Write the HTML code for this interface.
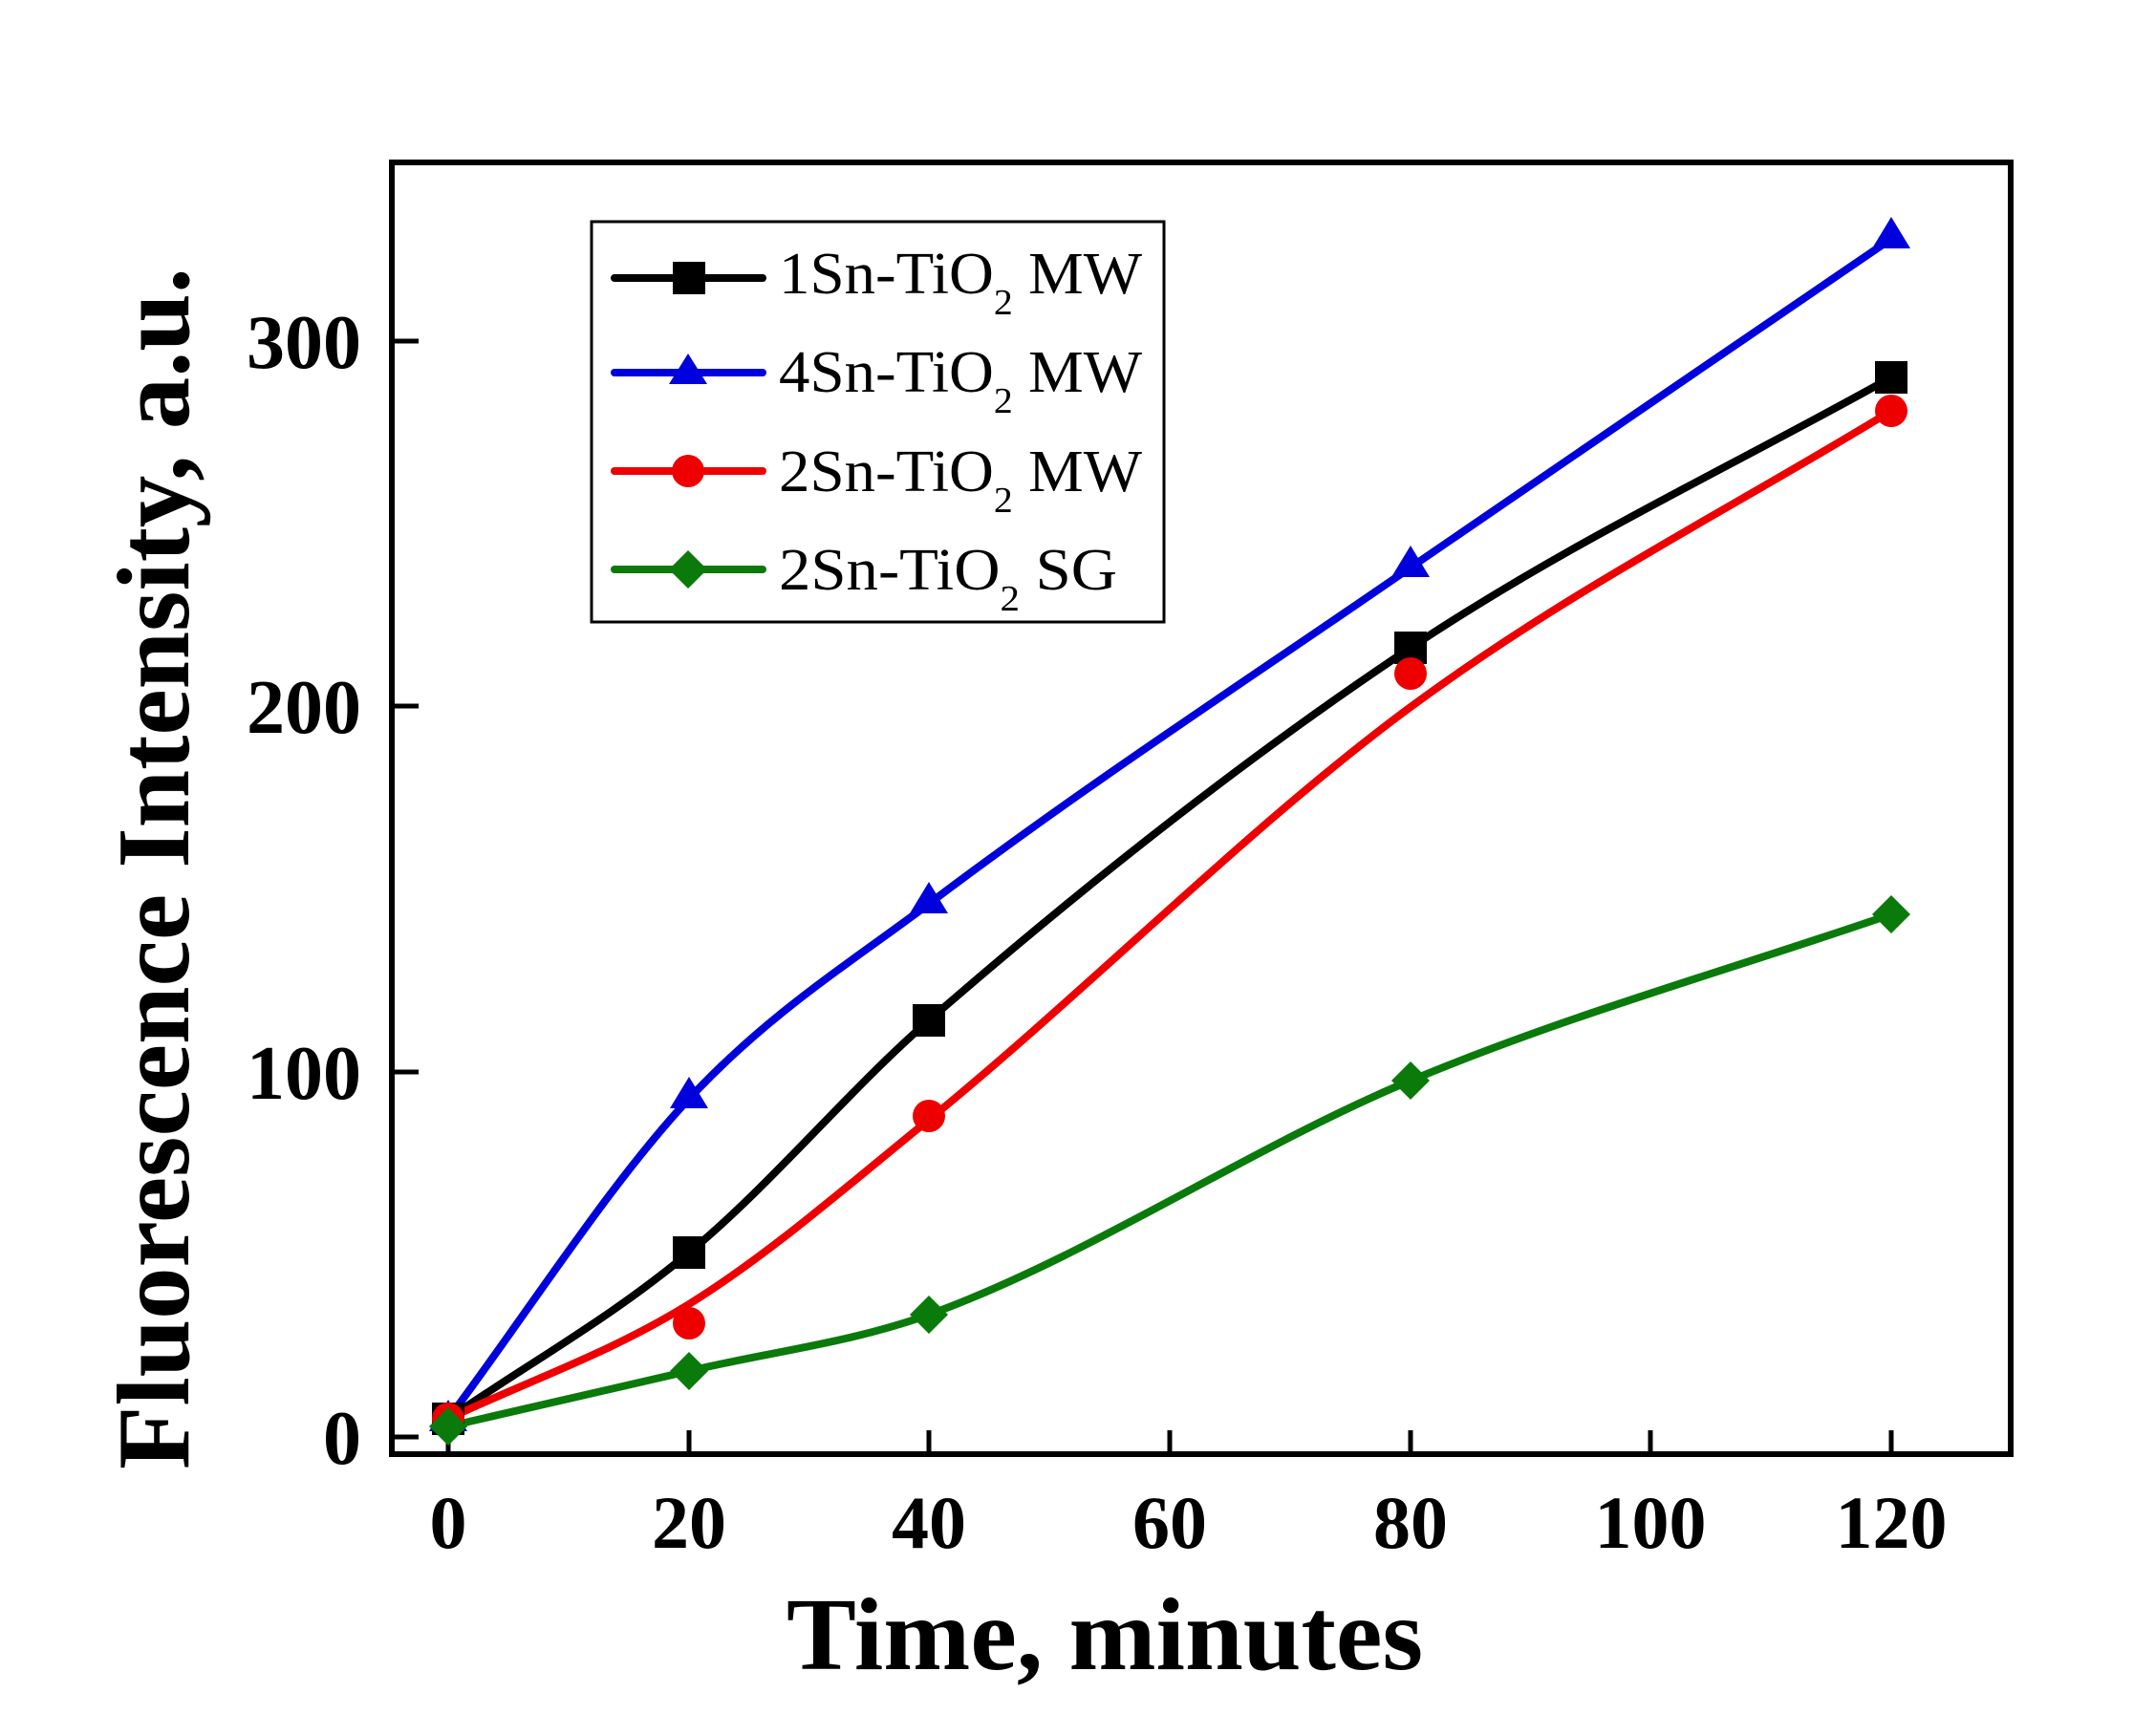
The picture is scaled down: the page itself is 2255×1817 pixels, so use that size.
<!DOCTYPE html>
<html><head><meta charset="utf-8"><style>body{margin:0;background:#fff}svg{display:block}</style></head><body>
<svg width="2255" height="1817" viewBox="0 0 2255 1817" xmlns="http://www.w3.org/2000/svg" font-family="'Liberation Serif', serif">
<rect width="2255" height="1817" fill="#fff"/>
<rect x="410" y="170" width="1694" height="1352" fill="none" stroke="#000" stroke-width="6"/>
<g stroke="#000" stroke-width="5">
<line x1="469" y1="1522" x2="469" y2="1497"/><line x1="721" y1="1522" x2="721" y2="1497"/><line x1="972" y1="1522" x2="972" y2="1497"/><line x1="1224" y1="1522" x2="1224" y2="1497"/><line x1="1476" y1="1522" x2="1476" y2="1497"/><line x1="1727" y1="1522" x2="1727" y2="1497"/><line x1="1979" y1="1522" x2="1979" y2="1497"/>
<line x1="410" y1="1504" x2="438" y2="1504"/><line x1="410" y1="1122" x2="438" y2="1122"/><line x1="410" y1="739" x2="438" y2="739"/><line x1="410" y1="357" x2="438" y2="357"/>
</g>
<g font-weight="bold" font-size="78" text-anchor="middle">
<text x="469" y="1620">0</text><text x="721" y="1620">20</text><text x="972" y="1620">40</text><text x="1224" y="1620">60</text><text x="1476" y="1620">80</text><text x="1727" y="1620">100</text><text x="1979" y="1620">120</text>
</g>
<g font-weight="bold" font-size="80" text-anchor="end">
<text x="378" y="1532">0</text><text x="378" y="1150">100</text><text x="378" y="767">200</text><text x="378" y="385">300</text>
</g>
<text x="1156" y="1747" font-weight="bold" font-size="108" text-anchor="middle" textLength="666" lengthAdjust="spacingAndGlyphs">Time, minutes</text>
<text transform="translate(197,909) rotate(-90)" font-weight="bold" font-size="108" text-anchor="middle" textLength="1258" lengthAdjust="spacingAndGlyphs">Fluorescence Intensity, a.u.</text>
<g fill="none" stroke-width="8" stroke-linecap="round">
<path stroke="#000" d="M469,1485 C553,1427 637,1381 721,1311 C805,1242 888,1141 972,1068 C1140,922 1308,790 1476,678 C1644,566 1811,489 1979,395"/>
<path stroke="#0000dd" d="M469,1485 C553,1373 637,1240 721,1150 C805,1060 888,1009 972,946 C1140,819 1308,710 1476,594 C1644,478 1811,365 1979,250"/>
<path stroke="#ee0000" d="M469,1485 C553,1445 637,1417 721,1365 C805,1313 888,1240 972,1172 C1140,1035 1308,864 1476,740 C1644,616 1811,533 1979,430"/>
<path stroke="#0a7a0a" d="M469,1493 C553,1474 637,1455 721,1435 C805,1415 888,1406 972,1376 C1140,1315 1308,1201 1476,1131 C1644,1061 1811,1015 1979,957"/>
</g>
<g fill="#000"><rect x="452" y="1468" width="34" height="34"/><rect x="704" y="1294" width="34" height="34"/><rect x="955" y="1051" width="34" height="34"/><rect x="1459" y="661" width="34" height="34"/><rect x="1962" y="378" width="34" height="34"/></g>
<g fill="#0000dd"><path d="M469,1465 l20,33 h-40z"/><path d="M721,1127 l20,33 h-40z"/><path d="M972,923 l20,33 h-40z"/><path d="M1476,571 l20,33 h-40z"/><path d="M1979,227 l20,33 h-40z"/></g>
<g fill="#ee0000"><circle cx="469" cy="1485" r="17"/><circle cx="721" cy="1385" r="17"/><circle cx="972" cy="1168" r="17"/><circle cx="1476" cy="705" r="17"/><circle cx="1979" cy="430" r="17"/></g>
<g fill="#0a7a0a"><path d="M469,1473 l20,20 -20,20 -20,-20z"/><path d="M721,1415 l20,20 -20,20 -20,-20z"/><path d="M972,1356 l20,20 -20,20 -20,-20z"/><path d="M1476,1111 l20,20 -20,20 -20,-20z"/><path d="M1979,937 l20,20 -20,20 -20,-20z"/></g>
<rect x="619" y="232" width="599" height="419" fill="#fff" stroke="#000" stroke-width="3"/>
<g stroke-width="8" stroke-linecap="round">
<line x1="643" y1="291" x2="798" y2="291" stroke="#000"/>
<line x1="643" y1="390" x2="798" y2="390" stroke="#0000dd"/>
<line x1="643" y1="493" x2="798" y2="493" stroke="#ee0000"/>
<line x1="643" y1="596" x2="798" y2="596" stroke="#0a7a0a"/>
</g>
<rect x="704" y="274" width="34" height="34" fill="#000"/>
<path d="M720,370 l20,32 h-40z" fill="#0000dd"/>
<circle cx="720" cy="493" r="17" fill="#ee0000"/>
<path d="M720,576 l20,20 -20,20 -20,-20z" fill="#0a7a0a"/>
<g font-size="62" fill="#000">
<text x="815" y="307" textLength="380" lengthAdjust="spacingAndGlyphs">1Sn-TiO<tspan font-size="38" dy="22">2</tspan><tspan dy="-22"> MW</tspan></text>
<text x="815" y="410" textLength="380" lengthAdjust="spacingAndGlyphs">4Sn-TiO<tspan font-size="38" dy="22">2</tspan><tspan dy="-22"> MW</tspan></text>
<text x="815" y="514" textLength="380" lengthAdjust="spacingAndGlyphs">2Sn-TiO<tspan font-size="38" dy="22">2</tspan><tspan dy="-22"> MW</tspan></text>
<text x="815" y="617" textLength="354" lengthAdjust="spacingAndGlyphs">2Sn-TiO<tspan font-size="38" dy="22">2</tspan><tspan dy="-22"> SG</tspan></text>
</g>
</svg>
</body></html>
